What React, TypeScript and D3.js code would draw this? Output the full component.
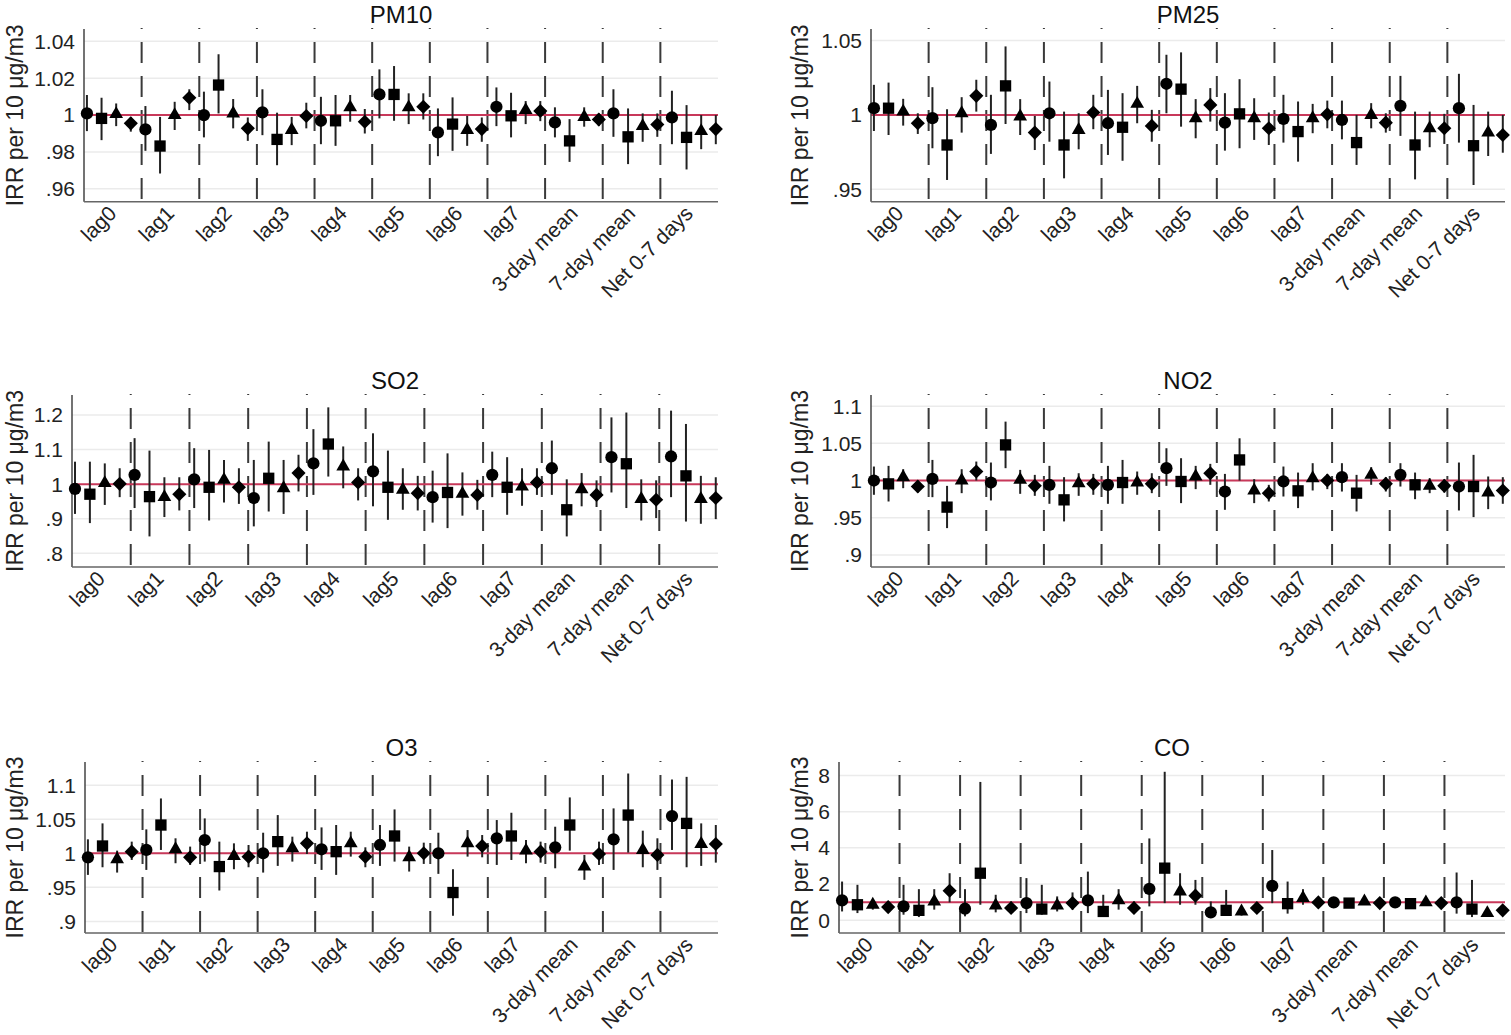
import * as d3 from "d3";
import { useEffect, useRef } from "react";

// categories along x, 4 estimates per category (circle, square, triangle, diamond)
const GROUPS = ["lag0", "lag1", "lag2", "lag3", "lag4", "lag5", "lag6", "lag7", "3-day mean", "7-day mean", "Net 0-7 days"];
const MARKERS = ["circle", "square", "triangle", "diamond"];

const PM10_EST = [1.0009, 0.9982, 1.0005, 0.9955, 0.9922, 0.9832, 1.0, 1.0094, 1.0, 1.0163, 1.0009, 0.9928, 1.0015, 0.9868, 0.9919, 0.9995, 0.9969, 0.9969, 1.0042, 0.9964, 1.0112, 1.0112, 1.0042, 1.0045, 0.9906, 0.9951, 0.9919, 0.9924, 1.0045, 0.9996, 1.0027, 1.0022, 0.996, 0.986, 0.999, 0.9976, 1.0009, 0.9882, 0.994, 0.9949, 0.9987, 0.9879, 0.9913, 0.9924];
const PM10_LO = [0.9913, 0.9864, 0.994, 0.991, 0.9806, 0.9683, 0.9919, 1.0027, 0.9879, 1.0009, 0.9928, 0.986, 0.9891, 0.9728, 0.9837, 0.9928, 0.9842, 0.9833, 0.9964, 0.99, 0.9982, 0.9969, 0.9951, 0.9976, 0.9777, 0.9806, 0.9833, 0.9855, 0.994, 0.9879, 0.9951, 0.9967, 0.9879, 0.9746, 0.9937, 0.994, 0.9882, 0.9734, 0.9855, 0.9882, 0.9842, 0.9705, 0.9815, 0.9842];
const PM10_HI = [1.0109, 1.0094, 1.0063, 0.999, 1.0049, 0.999, 1.0072, 1.014, 1.0127, 1.033, 1.0087, 0.9987, 1.014, 1.0013, 0.999, 1.0067, 1.0099, 1.0109, 1.0109, 1.0033, 1.0248, 1.0266, 1.0118, 1.0118, 1.0036, 1.0096, 0.9996, 0.9987, 1.015, 1.0121, 1.0076, 1.0076, 1.0042, 0.9978, 1.0042, 1.0009, 1.014, 1.0036, 1.0009, 1.0009, 1.0132, 1.0054, 1.0, 1.0];

const PM25_EST = [1.0045, 1.0045, 1.0022, 0.9944, 0.9978, 0.9798, 1.0011, 1.0128, 0.9933, 1.0195, 0.9989, 0.9881, 1.0011, 0.9798, 0.9899, 1.0016, 0.9944, 0.9917, 1.0074, 0.9926, 1.0209, 1.0173, 0.9978, 1.0067, 0.9948, 1.0007, 0.9978, 0.991, 0.9973, 0.9888, 0.9978, 1.0004, 0.9966, 0.9814, 1.0, 0.9948, 1.0061, 0.9798, 0.991, 0.991, 1.0045, 0.9793, 0.9881, 0.9865];
const PM25_LO = [0.9892, 0.9865, 0.9928, 0.9872, 0.9776, 0.9563, 0.9881, 1.0022, 0.9738, 0.9939, 0.9865, 0.9764, 0.982, 0.9574, 0.9769, 0.9904, 0.9731, 0.9692, 0.9944, 0.982, 1.0011, 0.9921, 0.9843, 0.9955, 0.976, 0.9776, 0.9832, 0.9798, 0.9814, 0.9686, 0.9877, 0.991, 0.9836, 0.9664, 0.991, 0.9881, 0.9859, 0.9567, 0.9783, 0.9805, 0.9814, 0.9529, 0.9724, 0.9746];
const PM25_HI = [1.0202, 1.0217, 1.0108, 1.0011, 1.0186, 1.0038, 1.0119, 1.0236, 1.0135, 1.046, 1.0106, 0.9993, 1.0224, 1.0022, 1.0011, 1.0135, 1.0168, 1.0146, 1.0195, 1.0034, 1.0404, 1.042, 1.0106, 1.018, 1.0146, 1.024, 1.0112, 1.0016, 1.0135, 1.009, 1.0074, 1.0096, 1.0096, 1.0, 1.0079, 1.0011, 1.0262, 1.0022, 1.0022, 1.0007, 1.0276, 1.0067, 1.0022, 1.0];

const SO2_EST = [0.9865, 0.971, 1.003, 1.001, 1.027, 0.964, 0.9625, 0.971, 1.014, 0.991, 1.0125, 0.991, 0.96, 1.017, 0.988, 1.032, 1.06, 1.116, 1.051, 1.005, 1.037, 0.991, 0.984, 0.974, 0.9625, 0.976, 0.972, 0.969, 1.027, 0.991, 0.993, 1.005, 1.046, 0.926, 0.9855, 0.969, 1.078, 1.059, 0.957, 0.955, 1.08, 1.024, 0.957, 0.96];
const SO2_LO = [0.914, 0.8875, 0.94, 0.9625, 0.931, 0.849, 0.905, 0.924, 0.931, 0.895, 0.947, 0.943, 0.878, 0.921, 0.914, 0.979, 0.969, 1.022, 0.988, 0.953, 0.936, 0.897, 0.926, 0.924, 0.889, 0.873, 0.909, 0.926, 0.9625, 0.9115, 0.9375, 0.969, 0.969, 0.849, 0.936, 0.934, 0.976, 0.931, 0.895, 0.902, 0.9625, 0.892, 0.8855, 0.899];
const SO2_HI = [1.065, 1.065, 1.06, 1.046, 1.133, 1.097, 1.02, 1.02, 1.104, 1.099, 1.07, 1.046, 1.07, 1.123, 1.07, 1.085, 1.159, 1.222, 1.109, 1.046, 1.147, 1.097, 1.046, 1.024, 1.039, 1.089, 1.034, 1.0125, 1.094, 1.078, 1.046, 1.046, 1.126, 1.014, 1.032, 1.011, 1.193, 1.207, 1.014, 1.011, 1.2125, 1.174, 1.024, 1.02];

const NO2_EST = [1.0, 0.9955, 1.0045, 0.9919, 1.0022, 0.9642, 1.0, 1.0121, 0.9973, 1.0479, 1.0009, 0.9928, 0.9942, 0.974, 0.9964, 0.9955, 0.9942, 0.9973, 0.9973, 0.9955, 1.0166, 0.9987, 1.0054, 1.0098, 0.9852, 1.0277, 0.9866, 0.983, 0.9987, 0.9861, 1.0031, 1.0, 1.0045, 0.983, 1.0076, 0.9955, 1.0076, 0.9942, 0.9928, 0.9928, 0.9919, 0.9919, 0.9839, 0.9866];
const NO2_LO = [0.9808, 0.9718, 0.9897, 0.9839, 0.9776, 0.936, 0.983, 1.0, 0.9732, 1.0166, 0.9821, 0.9794, 0.9687, 0.945, 0.9794, 0.9808, 0.9687, 0.9687, 0.9808, 0.983, 0.9928, 0.9696, 0.9884, 0.9942, 0.9606, 1.0, 0.9696, 0.9718, 0.9785, 0.9629, 0.9866, 0.9884, 0.9852, 0.9584, 0.9942, 0.9852, 0.9919, 0.9749, 0.983, 0.9839, 0.9597, 0.9508, 0.9615, 0.9687];
const NO2_HI = [1.0188, 1.0197, 1.0152, 1.0, 1.0277, 0.9928, 1.0152, 1.0255, 1.0242, 1.0792, 1.0143, 1.0076, 1.0197, 1.0045, 1.0098, 1.0089, 1.0197, 1.0277, 1.0121, 1.0098, 1.0434, 1.03, 1.0197, 1.0224, 1.0089, 1.0568, 1.0018, 0.9942, 1.0188, 1.0107, 1.0233, 1.0089, 1.0233, 1.0076, 1.0179, 1.0045, 1.0233, 1.0107, 1.0031, 1.0018, 1.0242, 1.0345, 1.0054, 1.0045];

const O3_EST = [0.9941, 1.0107, 0.9912, 1.0024, 1.0049, 1.0415, 1.0059, 0.9941, 1.0195, 0.9805, 0.9961, 0.9951, 1.0, 1.0171, 1.0073, 1.0146, 1.0059, 1.0024, 1.0146, 0.9951, 1.0122, 1.0254, 0.9941, 1.0, 1.0, 0.9424, 1.0146, 1.0107, 1.022, 1.0254, 1.0039, 1.0024, 1.0088, 1.0415, 0.9805, 0.999, 1.0205, 1.0561, 1.0049, 0.9976, 1.0546, 1.0439, 1.0137, 1.0137];
const O3_LO = [0.9683, 0.9795, 0.9717, 0.9902, 0.9756, 1.0049, 0.9854, 0.9829, 0.9878, 0.9454, 0.9766, 0.9795, 0.9717, 0.9815, 0.9878, 0.999, 0.9756, 0.9683, 0.9951, 0.9795, 0.9815, 0.9878, 0.9732, 0.9844, 0.9698, 0.9083, 0.9951, 0.9941, 0.9829, 0.9902, 0.9854, 0.9863, 0.978, 1.0039, 0.961, 0.9829, 0.9756, 1.001, 0.9795, 0.9756, 1.0049, 0.9795, 0.9815, 0.9863];
const O3_HI = [1.0205, 1.0439, 1.0039, 1.0171, 1.0351, 1.0805, 1.022, 1.0098, 1.0512, 1.0171, 1.0146, 1.0122, 1.0302, 1.0561, 1.0244, 1.0317, 1.038, 1.0415, 1.0317, 1.0088, 1.0415, 1.0644, 1.0098, 1.0156, 1.0302, 0.9766, 1.0341, 1.0268, 1.0488, 1.0595, 1.0195, 1.0171, 1.039, 1.082, 0.9976, 1.0171, 1.0659, 1.1171, 1.0332, 1.022, 1.1083, 1.1122, 1.0439, 1.0415];

const CO_EST = [1.1, 0.86, 0.86, 0.73, 0.77, 0.55, 1.04, 1.63, 0.64, 2.6, 0.82, 0.68, 0.95, 0.62, 0.82, 0.95, 1.1, 0.49, 1.1, 0.68, 1.74, 2.88, 1.59, 1.36, 0.44, 0.55, 0.49, 0.68, 1.9, 0.92, 1.23, 0.99, 0.99, 0.95, 1.04, 0.95, 0.99, 0.92, 0.99, 0.95, 0.99, 0.62, 0.4, 0.55];
const CO_LO = [0.49, 0.4, 0.59, 0.49, 0.31, 0.18, 0.59, 0.99, 0.22, 0.86, 0.44, 0.44, 0.4, 0.31, 0.49, 0.59, 0.4, 0.22, 0.59, 0.4, 0.77, 0.95, 0.86, 0.86, 0.13, 0.31, 0.26, 0.4, 0.95, 0.37, 0.86, 0.73, 0.86, 0.85, 0.92, 0.85, 0.88, 0.82, 0.9, 0.86, 0.37, 0.18, 0.26, 0.31];
const CO_HI = [2.14, 1.96, 1.14, 0.95, 1.96, 1.72, 1.72, 2.6, 1.72, 7.64, 1.41, 1.04, 2.33, 1.96, 1.32, 1.54, 2.69, 1.41, 1.72, 1.04, 4.52, 8.2, 2.6, 2.23, 1.04, 1.68, 0.77, 0.99, 3.88, 2.14, 1.72, 1.28, 1.14, 1.06, 1.16, 1.05, 1.1, 1.03, 1.09, 1.05, 2.64, 2.23, 0.62, 0.77];

// y axis ticks and extents
const PM10_TICKS = [0.96, 0.98, 1, 1.02, 1.04];
const PM25_TICKS = [0.95, 1, 1.05];
const SO2_TICKS = [0.8, 0.9, 1, 1.1, 1.2];
const NO2_TICKS = [0.9, 0.95, 1, 1.05, 1.1];
const O3_TICKS = [0.9, 0.95, 1, 1.05, 1.1];
const CO_TICKS = [0, 2, 4, 6, 8];

const PM10_DOMAIN = [0.953, 1.0467];
const PM25_DOMAIN = [0.9417, 1.0577];
const SO2_DOMAIN = [0.7606, 1.2577];
const NO2_DOMAIN = [0.8837, 1.115];
const O3_DOMAIN = [0.883, 1.134];
const CO_DOMAIN = [-0.7, 8.74];

const PANELS = [
  { name: "PM10", est: PM10_EST, lo: PM10_LO, hi: PM10_HI, ticks: PM10_TICKS, domain: PM10_DOMAIN },
  { name: "PM25", est: PM25_EST, lo: PM25_LO, hi: PM25_HI, ticks: PM25_TICKS, domain: PM25_DOMAIN },
  { name: "SO2", est: SO2_EST, lo: SO2_LO, hi: SO2_HI, ticks: SO2_TICKS, domain: SO2_DOMAIN },
  { name: "NO2", est: NO2_EST, lo: NO2_LO, hi: NO2_HI, ticks: NO2_TICKS, domain: NO2_DOMAIN },
  { name: "O3", est: O3_EST, lo: O3_LO, hi: O3_HI, ticks: O3_TICKS, domain: O3_DOMAIN },
  { name: "CO", est: CO_EST, lo: CO_LO, hi: CO_HI, ticks: CO_TICKS, domain: CO_DOMAIN },
];

// plot frames in page pixels
const FRAMES = [
  { left: 0, x0: 84, x1: 718, top: 29, bottom: 201.7 },
  { left: 785, x0: 871, x1: 1505, top: 29, bottom: 201.7 },
  { left: 0, x0: 72, x1: 718, top: 395, bottom: 567 },
  { left: 785, x0: 871, x1: 1505, top: 395, bottom: 567 },
  { left: 0, x0: 85, x1: 718, top: 762, bottom: 933 },
  { left: 785, x0: 839, x1: 1505, top: 762, bottom: 933 },
];

const W = 1511;
const H = 1035;
const FONT = "'Liberation Sans', Arial, sans-serif";

const fmtTick = (v: number) => d3.format("~g")(v).replace(/^0\./, ".");

export default function App() {
  const ref = useRef<SVGSVGElement | null>(null);

  useEffect(() => {
    document.body.style.margin = "0";
    const el = ref.current;
    if (!el) return;
    const svg = d3.select(el);
    svg.selectAll("*").remove();

    svg.append("rect").attr("width", W).attr("height", H).attr("fill", "#fff");

    const symbols: Record<string, string> = {
      circle: d3.symbol(d3.symbolCircle, 118)() as string,
      square: d3.symbol(d3.symbolSquare, 128)() as string,
      triangle: d3.symbol(d3.symbolTriangle, 82)() as string,
      diamond: d3.symbol(d3.symbolSquare, 100)() as string,
    };

    PANELS.forEach((p, pi) => {
      const f = FRAMES[pi];
      const g = svg.append("g").attr("font-family", FONT);

      const y = d3.scaleLinear().domain(p.domain).range([f.bottom, f.top]);
      const band = d3.scaleBand().domain(GROUPS).range([f.x0, f.x1]);
      const x = d3.scaleLinear().domain([-0.2, 43.15]).range([f.x0, f.x1]);

      // gridlines
      g.selectAll("line.grid")
        .data(p.ticks)
        .join("line")
        .attr("class", "grid")
        .attr("x1", f.x0)
        .attr("x2", f.x1)
        .attr("y1", (d) => y(d))
        .attr("y2", (d) => y(d))
        .attr("stroke", "#ebebeb")
        .attr("stroke-width", 1.5);

      // dashed separators between groups
      g.selectAll("line.sep")
        .data(GROUPS.slice(1))
        .join("line")
        .attr("class", "sep")
        .attr("x1", (d) => band(d) as number)
        .attr("x2", (d) => band(d) as number)
        .attr("y1", f.top - 1)
        .attr("y2", f.bottom)
        .attr("stroke", "#3a3a3a")
        .attr("stroke-width", 2)
        .attr("stroke-dasharray", "21,13")
        .attr("stroke-dashoffset", 20);

      // reference line at IRR = 1
      g.append("line")
        .attr("x1", f.x0)
        .attr("x2", f.x1)
        .attr("y1", y(1))
        .attr("y2", y(1))
        .attr("stroke", "#c8385a")
        .attr("stroke-width", 2);

      // axes
      g.append("line")
        .attr("x1", f.x0)
        .attr("x2", f.x0)
        .attr("y1", f.top)
        .attr("y2", f.bottom)
        .attr("stroke", "#444")
        .attr("stroke-width", 1.5);
      g.append("line")
        .attr("x1", f.x0)
        .attr("x2", f.x1)
        .attr("y1", f.bottom)
        .attr("y2", f.bottom)
        .attr("stroke", "#666")
        .attr("stroke-width", 1.5);

      g.selectAll("text.ytick")
        .data(p.ticks)
        .join("text")
        .attr("class", "ytick")
        .attr("x", f.x0 - 9)
        .attr("y", (d) => y(d))
        .attr("dy", "0.35em")
        .attr("text-anchor", "end")
        .attr("font-size", 21)
        .attr("fill", "#222")
        .text((d) => fmtTick(d));

      g.selectAll("text.xtick")
        .data(GROUPS)
        .join("text")
        .attr("class", "xtick")
        .attr("text-anchor", "end")
        .attr("font-size", 21)
        .attr("fill", "#222")
        .attr("transform", (d) => {
          const cx = (band(d) as number) + band.bandwidth() / 2 + 5;
          return `translate(${cx},${f.bottom + 13}) rotate(-45)`;
        })
        .text((d) => d);

      // title and y label
      g.append("text")
        .attr("x", (f.x0 + f.x1) / 2)
        .attr("y", f.top - 6)
        .attr("text-anchor", "middle")
        .attr("font-size", 24)
        .attr("fill", "#111")
        .text(p.name);

      g.append("text")
        .attr("transform", `translate(${f.left + 23},${(f.top + f.bottom) / 2}) rotate(-90)`)
        .attr("text-anchor", "middle")
        .attr("font-size", 23)
        .attr("fill", "#222")
        .text("IRR per 10 μg/m3");

      const pts = p.est.map((v, i) => ({
        slot: i,
        v,
        lo: p.lo[i],
        hi: p.hi[i],
        m: MARKERS[i % 4],
      }));

      g.selectAll("line.ci")
        .data(pts)
        .join("line")
        .attr("class", "ci")
        .attr("x1", (d) => x(d.slot))
        .attr("x2", (d) => x(d.slot))
        .attr("y1", (d) => y(d.lo))
        .attr("y2", (d) => y(d.hi))
        .attr("stroke", "#222")
        .attr("stroke-width", 2);

      g.selectAll("path.pt")
        .data(pts)
        .join("path")
        .attr("class", "pt")
        .attr("d", (d) => symbols[d.m])
        .attr("transform", (d) =>
          `translate(${x(d.slot)},${y(d.v)})` + (d.m === "diamond" ? " rotate(45)" : ""),
        )
        .attr("fill", "#000");
    });
  }, []);

  return <svg ref={ref} width={W} height={H} style={{ display: "block" }} />;
}
